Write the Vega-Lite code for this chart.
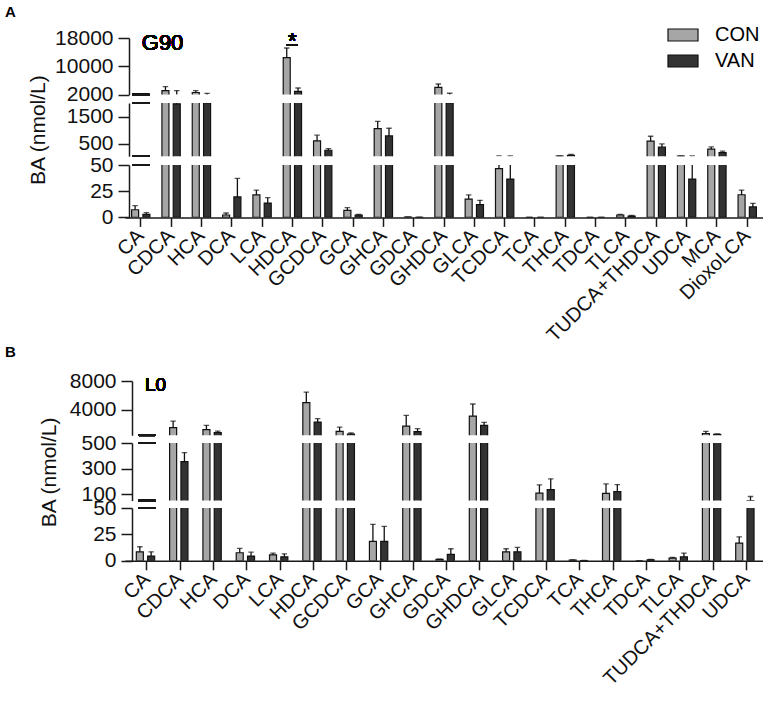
{
  "$schema": "https://vega.github.io/schema/vega-lite/v6.json",
  "padding": {"left": 5, "top": 5, "right": 0, "bottom": 0},
  "datasets": {
    "A": [
      {"ba": "CA", "grp": "CON", "mean": 7.3, "hi": 11.2}, {"ba": "CA", "grp": "VAN", "mean": 2.8, "hi": 4.5},
      {"ba": "CDCA", "grp": "CON", "mean": 3130, "hi": 4260}, {"ba": "CDCA", "grp": "VAN", "mean": 1970, "hi": 3130},
      {"ba": "HCA", "grp": "CON", "mean": 2600, "hi": 3100}, {"ba": "HCA", "grp": "VAN", "mean": 1990, "hi": 2370},
      {"ba": "DCA", "grp": "CON", "mean": 2.3, "hi": 4.2}, {"ba": "DCA", "grp": "VAN", "mean": 19.5, "hi": 37.2},
      {"ba": "LCA", "grp": "CON", "mean": 21.4, "hi": 26.1}, {"ba": "LCA", "grp": "VAN", "mean": 13.7, "hi": 18.8},
      {"ba": "HDCA", "grp": "CON", "mean": 12460, "hi": 15170}, {"ba": "HDCA", "grp": "VAN", "mean": 2930, "hi": 3870},
      {"ba": "GCDCA", "grp": "CON", "mean": 610, "hi": 819}, {"ba": "GCDCA", "grp": "VAN", "mean": 269, "hi": 328},
      {"ba": "GCA", "grp": "CON", "mean": 6.7, "hi": 9.3}, {"ba": "GCA", "grp": "VAN", "mean": 2.3, "hi": 2.9},
      {"ba": "GHCA", "grp": "CON", "mean": 1060, "hi": 1330}, {"ba": "GHCA", "grp": "VAN", "mean": 793, "hi": 1075},
      {"ba": "GDCA", "grp": "CON", "mean": 0.3, "hi": 0.4}, {"ba": "GDCA", "grp": "VAN", "mean": 0.1, "hi": 0.15},
      {"ba": "GHDCA", "grp": "CON", "mean": 4060, "hi": 5000}, {"ba": "GHDCA", "grp": "VAN", "mean": 1990, "hi": 2380},
      {"ba": "GLCA", "grp": "CON", "mean": 17.5, "hi": 21.4}, {"ba": "GLCA", "grp": "VAN", "mean": 12.1, "hi": 16.3},
      {"ba": "TCDCA", "grp": "CON", "mean": 46.5, "hi": 60}, {"ba": "TCDCA", "grp": "VAN", "mean": 36.6, "hi": 60},
      {"ba": "TCA", "grp": "CON", "mean": 0, "hi": 0}, {"ba": "TCA", "grp": "VAN", "mean": 0, "hi": 0},
      {"ba": "THCA", "grp": "CON", "mean": 52, "hi": 58}, {"ba": "THCA", "grp": "VAN", "mean": 80, "hi": 115},
      {"ba": "TDCA", "grp": "CON", "mean": 0, "hi": 0}, {"ba": "TDCA", "grp": "VAN", "mean": 0, "hi": 0},
      {"ba": "TLCA", "grp": "CON", "mean": 2.3, "hi": 2.9}, {"ba": "TLCA", "grp": "VAN", "mean": 1.3, "hi": 1.8},
      {"ba": "TUDCA+THDCA", "grp": "CON", "mean": 599, "hi": 782}, {"ba": "TUDCA+THDCA", "grp": "VAN", "mean": 379, "hi": 500},
      {"ba": "UDCA", "grp": "CON", "mean": 52, "hi": 58}, {"ba": "UDCA", "grp": "VAN", "mean": 36.6, "hi": 60},
      {"ba": "MCA", "grp": "CON", "mean": 306, "hi": 390}, {"ba": "MCA", "grp": "VAN", "mean": 181, "hi": 233},
      {"ba": "DioxoLCA", "grp": "CON", "mean": 21.6, "hi": 26.1}, {"ba": "DioxoLCA", "grp": "VAN", "mean": 10, "hi": 13.4}
    ],
    "B": [
      {"ba": "CA", "grp": "CON", "mean": 8.5, "hi": 13.3}, {"ba": "CA", "grp": "VAN", "mean": 4.5, "hi": 8.5},
      {"ba": "CDCA", "grp": "CON", "mean": 1560, "hi": 2470}, {"ba": "CDCA", "grp": "VAN", "mean": 355, "hi": 425},
      {"ba": "HCA", "grp": "CON", "mean": 1290, "hi": 1880}, {"ba": "HCA", "grp": "VAN", "mean": 870, "hi": 1090},
      {"ba": "DCA", "grp": "CON", "mean": 7.6, "hi": 11.7}, {"ba": "DCA", "grp": "VAN", "mean": 4.5, "hi": 8.2},
      {"ba": "LCA", "grp": "CON", "mean": 5.7, "hi": 7.3}, {"ba": "LCA", "grp": "VAN", "mean": 3.8, "hi": 6.6},
      {"ba": "HDCA", "grp": "CON", "mean": 5010, "hi": 6470}, {"ba": "HDCA", "grp": "VAN", "mean": 2330, "hi": 2800},
      {"ba": "GCDCA", "grp": "CON", "mean": 1050, "hi": 1640}, {"ba": "GCDCA", "grp": "VAN", "mean": 680, "hi": 820},
      {"ba": "GCA", "grp": "CON", "mean": 18.4, "hi": 34.5}, {"ba": "GCA", "grp": "VAN", "mean": 18.4, "hi": 32.6},
      {"ba": "GHCA", "grp": "CON", "mean": 1780, "hi": 3260}, {"ba": "GHCA", "grp": "VAN", "mean": 1010, "hi": 1420},
      {"ba": "GDCA", "grp": "CON", "mean": 1.3, "hi": 1.6}, {"ba": "GDCA", "grp": "VAN", "mean": 6.1, "hi": 11.4},
      {"ba": "GHDCA", "grp": "CON", "mean": 3160, "hi": 4820}, {"ba": "GHDCA", "grp": "VAN", "mean": 1880, "hi": 2290},
      {"ba": "GLCA", "grp": "CON", "mean": 8.5, "hi": 11.4}, {"ba": "GLCA", "grp": "VAN", "mean": 8.5, "hi": 12.7},
      {"ba": "TCDCA", "grp": "CON", "mean": 108, "hi": 173}, {"ba": "TCDCA", "grp": "VAN", "mean": 136, "hi": 220},
      {"ba": "TCA", "grp": "CON", "mean": 0.7, "hi": 0.9}, {"ba": "TCA", "grp": "VAN", "mean": 0.2, "hi": 0.3},
      {"ba": "THCA", "grp": "CON", "mean": 106, "hi": 180}, {"ba": "THCA", "grp": "VAN", "mean": 120, "hi": 175},
      {"ba": "TDCA", "grp": "CON", "mean": 0, "hi": 0}, {"ba": "TDCA", "grp": "VAN", "mean": 1.0, "hi": 1.3},
      {"ba": "TLCA", "grp": "CON", "mean": 2.5, "hi": 3.3}, {"ba": "TLCA", "grp": "VAN", "mean": 3.8, "hi": 7.3},
      {"ba": "TUDCA+THDCA", "grp": "CON", "mean": 735, "hi": 1050}, {"ba": "TUDCA+THDCA", "grp": "VAN", "mean": 620, "hi": 680},
      {"ba": "UDCA", "grp": "CON", "mean": 16.8, "hi": 22.7}, {"ba": "UDCA", "grp": "VAN", "mean": 50.5, "hi": 82}
    ]
  },
  "spacing": 9,
  "resolve": {"scale": {"color": "independent"}, "legend": {"color": "independent"}},
  "vconcat": [
    {
      "spacing": 8,
      "bounds": "flush",
      "resolve": {"scale": {"color": "independent"}, "legend": {"color": "independent"}},
      "vconcat": [
        {
          "data": {"name": "A"},
          "width": 638, "height": 56.6,
          "title": {"text": "A", "orient": "top", "anchor": "start", "frame": "group", "dx": -120, "offset": -1},
          "layer": [
            {"transform": [{"filter": "datum.mean > 2000"}],
             "mark": {"type": "bar", "clip": true, "stroke": "#111", "strokeWidth": 1.2},
             "encoding": {
               "x": {"field": "ba", "type": "nominal", "sort": null, "scale": {"domain": ["CA","CDCA","HCA","DCA","LCA","HDCA","GCDCA","GCA","GHCA","GDCA","GHDCA","GLCA","TCDCA","TCA","THCA","TDCA","TLCA","TUDCA+THDCA","UDCA","MCA","DioxoLCA"], "paddingInner": 0, "paddingOuter": 0.02}, "axis": null},
               "xOffset": {"field": "grp", "type": "nominal", "scale": {"domain": ["CON","VAN"], "paddingInner": 0.38, "paddingOuter": 0.53}},
               "y": {"field": "mean", "type": "quantitative", "scale": {"domain": [2000, 18000], "nice": false, "zero": false}, "axis": {"values": [2000, 10000, 18000], "format": "d", "title": null, "offset": -4, "tickSize": 11, "labelPadding": 5, "labelFontSize": 21}},
               "y2": {"datum": 0},
               "color": {"field": "grp", "type": "nominal", "scale": {"domain": ["CON","VAN"], "range": ["#a6a6a6","#333333"]}, "legend": {"title": null, "orient": "none", "legendX": 542, "legendY": -19, "padding": 0, "symbolType": "M-1,-0.4H1V0.4H-1Z", "symbolSize": 900, "symbolStrokeColor": "#111", "symbolStrokeWidth": 1.2, "symbolOpacity": 1, "labelFontSize": 20, "labelColor": "#000", "labelOffset": 16, "rowPadding": 0}}
             }},
            {"transform": [{"filter": "datum.hi > 2000"}],
             "mark": {"type": "rule", "clip": true, "color": "#111", "strokeWidth": 1.3},
             "encoding": {"x": {"field": "ba", "type": "nominal", "axis": null}, "xOffset": {"field": "grp", "type": "nominal"}, "y": {"field": "mean", "type": "quantitative", "axis": {"values": [2000, 10000, 18000], "format": "d", "title": null, "offset": -4, "tickSize": 11, "labelPadding": 5, "labelFontSize": 21}}, "y2": {"field": "hi"}}},
            {"transform": [{"filter": "datum.hi > 2000"}],
             "mark": {"type": "tick", "clip": true, "color": "#111", "thickness": 1.3, "size": 5.5, "orient": "horizontal"},
             "encoding": {"x": {"field": "ba", "type": "nominal", "axis": null}, "xOffset": {"field": "grp", "type": "nominal"}, "y": {"field": "hi", "type": "quantitative", "axis": {"values": [2000, 10000, 18000], "format": "d", "title": null, "offset": -4, "tickSize": 11, "labelPadding": 5, "labelFontSize": 21}}}},
            {"mark": {"type": "tick", "color": "#1a1a1a", "thickness": 1.5, "size": 17, "orient": "horizontal"},
             "encoding": {"x": {"datum": "CA", "bandPosition": 0.1, "axis": null}, "y": {"datum": 2000, "axis": {"values": [2000, 10000, 18000], "format": "d", "title": null, "offset": -4, "tickSize": 11, "labelPadding": 5, "labelFontSize": 21}}}},
            {"mark": {"type": "text", "align": "left", "baseline": "alphabetic", "fontSize": 22, "dx": 1, "color": "#000"},
             "encoding": {"x": {"datum": "CA", "axis": null}, "y": {"datum": 14523, "axis": {"values": [2000, 10000, 18000], "format": "d", "title": null, "offset": -4, "tickSize": 11, "labelPadding": 5, "labelFontSize": 21}}, "text": {"value": "G90"}}},
            {"mark": {"type": "text", "align": "center", "baseline": "alphabetic", "fontSize": 22, "color": "#000"},
             "encoding": {"x": {"datum": "HDCA", "axis": null}, "y": {"datum": 15088, "axis": {"values": [2000, 10000, 18000], "format": "d", "title": null, "offset": -4, "tickSize": 11, "labelPadding": 5, "labelFontSize": 21}}, "text": {"value": "*"}}},
            {"mark": {"type": "tick", "color": "#111", "thickness": 1.5, "size": 11, "orient": "horizontal"},
             "encoding": {"x": {"datum": "HDCA", "axis": null}, "y": {"datum": 16000, "axis": {"values": [2000, 10000, 18000], "format": "d", "title": null, "offset": -4, "tickSize": 11, "labelPadding": 5, "labelFontSize": 21}}}}
          ]
        },
        {
          "data": {"name": "A"},
          "width": 638, "height": 53.2,
          "layer": [
            {"transform": [{"filter": "datum.mean > 50"}],
             "mark": {"type": "bar", "clip": true, "stroke": "#111", "strokeWidth": 1.2},
             "encoding": {
               "x": {"field": "ba", "type": "nominal", "sort": null, "scale": {"domain": ["CA","CDCA","HCA","DCA","LCA","HDCA","GCDCA","GCA","GHCA","GDCA","GHDCA","GLCA","TCDCA","TCA","THCA","TDCA","TLCA","TUDCA+THDCA","UDCA","MCA","DioxoLCA"], "paddingInner": 0, "paddingOuter": 0.02}, "axis": null},
               "xOffset": {"field": "grp", "type": "nominal", "scale": {"domain": ["CON","VAN"], "paddingInner": 0.38, "paddingOuter": 0.53}},
               "y": {"field": "mean", "type": "quantitative", "scale": {"domain": [50, 2000], "nice": false, "zero": false}, "axis": {"values": [500, 1500], "format": "d", "title": "BA (nmol/L)", "titleFontSize": 21, "titleFontWeight": "normal", "titlePadding": 18, "offset": -4, "tickSize": 11, "labelPadding": 5, "labelFontSize": 21}},
               "y2": {"datum": 0},
               "color": {"field": "grp", "type": "nominal", "scale": {"domain": ["CON","VAN"], "range": ["#a6a6a6","#333333"]}, "legend": null}
             }},
            {"transform": [{"filter": "datum.hi > 50"}],
             "mark": {"type": "rule", "clip": true, "color": "#111", "strokeWidth": 1.3},
             "encoding": {"x": {"field": "ba", "type": "nominal", "axis": null}, "xOffset": {"field": "grp", "type": "nominal"}, "y": {"field": "mean", "type": "quantitative", "axis": {"values": [500, 1500], "format": "d", "title": "BA (nmol/L)", "titleFontSize": 21, "titleFontWeight": "normal", "titlePadding": 18, "offset": -4, "tickSize": 11, "labelPadding": 5, "labelFontSize": 21}}, "y2": {"field": "hi"}}},
            {"transform": [{"filter": "datum.hi > 50"}],
             "mark": {"type": "tick", "clip": true, "color": "#111", "thickness": 1.3, "size": 5.5, "orient": "horizontal"},
             "encoding": {"x": {"field": "ba", "type": "nominal", "axis": null}, "xOffset": {"field": "grp", "type": "nominal"}, "y": {"field": "hi", "type": "quantitative", "axis": {"values": [500, 1500], "format": "d", "title": "BA (nmol/L)", "titleFontSize": 21, "titleFontWeight": "normal", "titlePadding": 18, "offset": -4, "tickSize": 11, "labelPadding": 5, "labelFontSize": 21}}}},
            {"mark": {"type": "tick", "color": "#1a1a1a", "thickness": 1.5, "size": 17, "orient": "horizontal"},
             "encoding": {"x": {"datum": "CA", "bandPosition": 0.1, "axis": null}, "y": {"datum": 2000, "axis": {"values": [500, 1500], "format": "d", "title": "BA (nmol/L)", "titleFontSize": 21, "titleFontWeight": "normal", "titlePadding": 18, "offset": -4, "tickSize": 11, "labelPadding": 5, "labelFontSize": 21}}}},
            {"mark": {"type": "tick", "color": "#1a1a1a", "thickness": 1.5, "size": 17, "orient": "horizontal"},
             "encoding": {"x": {"datum": "CA", "bandPosition": 0.1, "axis": null}, "y": {"datum": 50, "axis": {"values": [500, 1500], "format": "d", "title": "BA (nmol/L)", "titleFontSize": 21, "titleFontWeight": "normal", "titlePadding": 18, "offset": -4, "tickSize": 11, "labelPadding": 5, "labelFontSize": 21}}}}
          ]
        },
        {
          "data": {"name": "A"},
          "width": 638, "height": 52.4,
          "title": {"text": "B", "orient": "bottom", "anchor": "start", "frame": "group", "dx": -120, "offset": 0},
          "layer": [
            {"mark": {"type": "bar", "clip": true, "stroke": "#111", "strokeWidth": 1.2},
             "encoding": {
               "x": {"field": "ba", "type": "nominal", "sort": null, "scale": {"domain": ["CA","CDCA","HCA","DCA","LCA","HDCA","GCDCA","GCA","GHCA","GDCA","GHDCA","GLCA","TCDCA","TCA","THCA","TDCA","TLCA","TUDCA+THDCA","UDCA","MCA","DioxoLCA"], "paddingInner": 0, "paddingOuter": 0.02}, "axis": {"title": null, "labelAngle": -45, "labelAlign": "right", "labelBaseline": "middle", "labelFontSize": 20, "tickSize": 9, "labelPadding": 6, "labelOverlap": false, "labelLimit": 400}},
               "xOffset": {"field": "grp", "type": "nominal", "scale": {"domain": ["CON","VAN"], "paddingInner": 0.38, "paddingOuter": 0.53}},
               "y": {"field": "mean", "type": "quantitative", "scale": {"domain": [0, 50], "nice": false, "zero": false}, "axis": {"values": [0, 25, 50], "format": "d", "title": null, "offset": -4, "tickSize": 11, "labelPadding": 5, "labelFontSize": 21}},
               "y2": {"datum": 0},
               "color": {"field": "grp", "type": "nominal", "scale": {"domain": ["CON","VAN"], "range": ["#a6a6a6","#333333"]}, "legend": null}
             }},
            {"mark": {"type": "rule", "clip": true, "color": "#111", "strokeWidth": 1.3},
             "encoding": {"x": {"field": "ba", "type": "nominal", "axis": {"title": null, "labelAngle": -45, "labelAlign": "right", "labelBaseline": "middle", "labelFontSize": 20, "tickSize": 9, "labelPadding": 6, "labelOverlap": false, "labelLimit": 400}}, "xOffset": {"field": "grp", "type": "nominal"}, "y": {"field": "mean", "type": "quantitative", "axis": {"values": [0, 25, 50], "format": "d", "title": null, "offset": -4, "tickSize": 11, "labelPadding": 5, "labelFontSize": 21}}, "y2": {"field": "hi"}}},
            {"mark": {"type": "tick", "clip": true, "color": "#111", "thickness": 1.3, "size": 5.5, "orient": "horizontal"},
             "encoding": {"x": {"field": "ba", "type": "nominal", "axis": {"title": null, "labelAngle": -45, "labelAlign": "right", "labelBaseline": "middle", "labelFontSize": 20, "tickSize": 9, "labelPadding": 6, "labelOverlap": false, "labelLimit": 400}}, "xOffset": {"field": "grp", "type": "nominal"}, "y": {"field": "hi", "type": "quantitative", "axis": {"values": [0, 25, 50], "format": "d", "title": null, "offset": -4, "tickSize": 11, "labelPadding": 5, "labelFontSize": 21}}}},
            {"mark": {"type": "tick", "color": "#1a1a1a", "thickness": 1.5, "size": 17, "orient": "horizontal"},
             "encoding": {"x": {"datum": "CA", "bandPosition": 0.1, "axis": {"title": null, "labelAngle": -45, "labelAlign": "right", "labelBaseline": "middle", "labelFontSize": 20, "tickSize": 9, "labelPadding": 6, "labelOverlap": false, "labelLimit": 400}}, "y": {"datum": 50, "axis": {"values": [0, 25, 50], "format": "d", "title": null, "offset": -4, "tickSize": 11, "labelPadding": 5, "labelFontSize": 21}}}}
          ]
        }
      ]
    },
    {
      "spacing": 7,
      "bounds": "flush",
      "resolve": {"scale": {"color": "independent"}, "legend": {"color": "independent"}},
      "vconcat": [
        {
          "data": {"name": "B"},
          "width": 638, "height": 54.3,
          "layer": [
            {"transform": [{"filter": "datum.mean > 500"}],
             "mark": {"type": "bar", "clip": true, "stroke": "#111", "strokeWidth": 1.2},
             "encoding": {
               "x": {"field": "ba", "type": "nominal", "sort": null, "scale": {"domain": ["CA","CDCA","HCA","DCA","LCA","HDCA","GCDCA","GCA","GHCA","GDCA","GHDCA","GLCA","TCDCA","TCA","THCA","TDCA","TLCA","TUDCA+THDCA","UDCA"], "paddingInner": 0, "paddingOuter": 0.08, "align": 1}, "axis": null},
               "xOffset": {"field": "grp", "type": "nominal", "scale": {"domain": ["CON","VAN"], "paddingInner": 0.41, "paddingOuter": 0.57}},
               "y": {"field": "mean", "type": "quantitative", "scale": {"domain": [500, 8000], "nice": false, "zero": false}, "axis": {"values": [4000, 8000], "format": "d", "title": null, "offset": -7, "tickSize": 11, "labelPadding": 5, "labelFontSize": 21}},
               "y2": {"datum": 0},
               "color": {"field": "grp", "type": "nominal", "scale": {"domain": ["CON","VAN"], "range": ["#a6a6a6","#333333"]}, "legend": null}
             }},
            {"transform": [{"filter": "datum.hi > 500"}],
             "mark": {"type": "rule", "clip": true, "color": "#111", "strokeWidth": 1.3},
             "encoding": {"x": {"field": "ba", "type": "nominal", "axis": null}, "xOffset": {"field": "grp", "type": "nominal"}, "y": {"field": "mean", "type": "quantitative", "axis": {"values": [4000, 8000], "format": "d", "title": null, "offset": -7, "tickSize": 11, "labelPadding": 5, "labelFontSize": 21}}, "y2": {"field": "hi"}}},
            {"transform": [{"filter": "datum.hi > 500"}],
             "mark": {"type": "tick", "clip": true, "color": "#111", "thickness": 1.3, "size": 5.5, "orient": "horizontal"},
             "encoding": {"x": {"field": "ba", "type": "nominal", "axis": null}, "xOffset": {"field": "grp", "type": "nominal"}, "y": {"field": "hi", "type": "quantitative", "axis": {"values": [4000, 8000], "format": "d", "title": null, "offset": -7, "tickSize": 11, "labelPadding": 5, "labelFontSize": 21}}}},
            {"mark": {"type": "tick", "color": "#1a1a1a", "thickness": 1.5, "size": 17, "orient": "horizontal"},
             "encoding": {"x": {"datum": "CA", "bandPosition": 0.05, "axis": null}, "y": {"datum": 500, "axis": {"values": [4000, 8000], "format": "d", "title": null, "offset": -7, "tickSize": 11, "labelPadding": 5, "labelFontSize": 21}}}},
            {"mark": {"type": "text", "align": "left", "baseline": "alphabetic", "fontSize": 19, "dx": -2, "color": "#000"},
             "encoding": {"x": {"datum": "CA", "axis": null}, "y": {"datum": 6577, "axis": {"values": [4000, 8000], "format": "d", "title": null, "offset": -7, "tickSize": 11, "labelPadding": 5, "labelFontSize": 21}}, "text": {"value": "L0"}}}
          ]
        },
        {
          "data": {"name": "B"},
          "width": 638, "height": 57.6,
          "layer": [
            {"transform": [{"filter": "datum.mean > 50"}],
             "mark": {"type": "bar", "clip": true, "stroke": "#111", "strokeWidth": 1.2},
             "encoding": {
               "x": {"field": "ba", "type": "nominal", "sort": null, "scale": {"domain": ["CA","CDCA","HCA","DCA","LCA","HDCA","GCDCA","GCA","GHCA","GDCA","GHDCA","GLCA","TCDCA","TCA","THCA","TDCA","TLCA","TUDCA+THDCA","UDCA"], "paddingInner": 0, "paddingOuter": 0.08, "align": 1}, "axis": null},
               "xOffset": {"field": "grp", "type": "nominal", "scale": {"domain": ["CON","VAN"], "paddingInner": 0.41, "paddingOuter": 0.57}},
               "y": {"field": "mean", "type": "quantitative", "scale": {"domain": [50, 500], "nice": false, "zero": false}, "axis": {"values": [100, 300, 500], "format": "d", "title": "BA (nmol/L)", "titleFontSize": 21, "titleFontWeight": "normal", "titlePadding": 21, "offset": -7, "tickSize": 11, "labelPadding": 5, "labelFontSize": 21}},
               "y2": {"datum": 0},
               "color": {"field": "grp", "type": "nominal", "scale": {"domain": ["CON","VAN"], "range": ["#a6a6a6","#333333"]}, "legend": null}
             }},
            {"transform": [{"filter": "datum.hi > 50"}],
             "mark": {"type": "rule", "clip": true, "color": "#111", "strokeWidth": 1.3},
             "encoding": {"x": {"field": "ba", "type": "nominal", "axis": null}, "xOffset": {"field": "grp", "type": "nominal"}, "y": {"field": "mean", "type": "quantitative", "axis": {"values": [100, 300, 500], "format": "d", "title": "BA (nmol/L)", "titleFontSize": 21, "titleFontWeight": "normal", "titlePadding": 21, "offset": -7, "tickSize": 11, "labelPadding": 5, "labelFontSize": 21}}, "y2": {"field": "hi"}}},
            {"transform": [{"filter": "datum.hi > 50"}],
             "mark": {"type": "tick", "clip": true, "color": "#111", "thickness": 1.3, "size": 5.5, "orient": "horizontal"},
             "encoding": {"x": {"field": "ba", "type": "nominal", "axis": null}, "xOffset": {"field": "grp", "type": "nominal"}, "y": {"field": "hi", "type": "quantitative", "axis": {"values": [100, 300, 500], "format": "d", "title": "BA (nmol/L)", "titleFontSize": 21, "titleFontWeight": "normal", "titlePadding": 21, "offset": -7, "tickSize": 11, "labelPadding": 5, "labelFontSize": 21}}}},
            {"mark": {"type": "tick", "color": "#1a1a1a", "thickness": 1.5, "size": 17, "orient": "horizontal"},
             "encoding": {"x": {"datum": "CA", "bandPosition": 0.05, "axis": null}, "y": {"datum": 500, "axis": {"values": [100, 300, 500], "format": "d", "title": "BA (nmol/L)", "titleFontSize": 21, "titleFontWeight": "normal", "titlePadding": 21, "offset": -7, "tickSize": 11, "labelPadding": 5, "labelFontSize": 21}}}},
            {"mark": {"type": "tick", "color": "#1a1a1a", "thickness": 1.5, "size": 17, "orient": "horizontal"},
             "encoding": {"x": {"datum": "CA", "bandPosition": 0.05, "axis": null}, "y": {"datum": 50, "axis": {"values": [100, 300, 500], "format": "d", "title": "BA (nmol/L)", "titleFontSize": 21, "titleFontWeight": "normal", "titlePadding": 21, "offset": -7, "tickSize": 11, "labelPadding": 5, "labelFontSize": 21}}}}
          ]
        },
        {
          "data": {"name": "B"},
          "width": 638, "height": 52.8,
          "layer": [
            {"mark": {"type": "bar", "clip": true, "stroke": "#111", "strokeWidth": 1.2},
             "encoding": {
               "x": {"field": "ba", "type": "nominal", "sort": null, "scale": {"domain": ["CA","CDCA","HCA","DCA","LCA","HDCA","GCDCA","GCA","GHCA","GDCA","GHDCA","GLCA","TCDCA","TCA","THCA","TDCA","TLCA","TUDCA+THDCA","UDCA"], "paddingInner": 0, "paddingOuter": 0.08, "align": 1}, "axis": {"title": null, "labelAngle": -45, "labelAlign": "right", "labelBaseline": "middle", "labelFontSize": 20, "tickSize": 9, "labelPadding": 6, "labelOverlap": false, "labelLimit": 400}},
               "xOffset": {"field": "grp", "type": "nominal", "scale": {"domain": ["CON","VAN"], "paddingInner": 0.41, "paddingOuter": 0.57}},
               "y": {"field": "mean", "type": "quantitative", "scale": {"domain": [0, 50], "nice": false, "zero": false}, "axis": {"values": [0, 25, 50], "format": "d", "title": null, "offset": -7, "tickSize": 11, "labelPadding": 5, "labelFontSize": 21}},
               "y2": {"datum": 0},
               "color": {"field": "grp", "type": "nominal", "scale": {"domain": ["CON","VAN"], "range": ["#a6a6a6","#333333"]}, "legend": null}
             }},
            {"mark": {"type": "rule", "clip": true, "color": "#111", "strokeWidth": 1.3},
             "encoding": {"x": {"field": "ba", "type": "nominal", "axis": {"title": null, "labelAngle": -45, "labelAlign": "right", "labelBaseline": "middle", "labelFontSize": 20, "tickSize": 9, "labelPadding": 6, "labelOverlap": false, "labelLimit": 400}}, "xOffset": {"field": "grp", "type": "nominal"}, "y": {"field": "mean", "type": "quantitative", "axis": {"values": [0, 25, 50], "format": "d", "title": null, "offset": -7, "tickSize": 11, "labelPadding": 5, "labelFontSize": 21}}, "y2": {"field": "hi"}}},
            {"mark": {"type": "tick", "clip": true, "color": "#111", "thickness": 1.3, "size": 5.5, "orient": "horizontal"},
             "encoding": {"x": {"field": "ba", "type": "nominal", "axis": {"title": null, "labelAngle": -45, "labelAlign": "right", "labelBaseline": "middle", "labelFontSize": 20, "tickSize": 9, "labelPadding": 6, "labelOverlap": false, "labelLimit": 400}}, "xOffset": {"field": "grp", "type": "nominal"}, "y": {"field": "hi", "type": "quantitative", "axis": {"values": [0, 25, 50], "format": "d", "title": null, "offset": -7, "tickSize": 11, "labelPadding": 5, "labelFontSize": 21}}}},
            {"mark": {"type": "tick", "color": "#1a1a1a", "thickness": 1.5, "size": 17, "orient": "horizontal"},
             "encoding": {"x": {"datum": "CA", "bandPosition": 0.05, "axis": {"title": null, "labelAngle": -45, "labelAlign": "right", "labelBaseline": "middle", "labelFontSize": 20, "tickSize": 9, "labelPadding": 6, "labelOverlap": false, "labelLimit": 400}}, "y": {"datum": 50, "axis": {"values": [0, 25, 50], "format": "d", "title": null, "offset": -7, "tickSize": 11, "labelPadding": 5, "labelFontSize": 21}}}}
          ]
        }
      ]
    }
  ],
  "config": {
    "font": "Liberation Sans",
    "view": {"stroke": null},
    "axis": {"domainColor": "#1a1a1a", "domainWidth": 1.5, "tickColor": "#1a1a1a", "tickWidth": 1.5, "tickSize": 11, "labelPadding": 5, "labelFontSize": 21, "labelColor": "#111", "titleColor": "#111", "grid": false},
    "axisX": {"labelAngle": -45, "labelFontSize": 20, "tickSize": 9},
    "title": {"fontSize": 15, "fontWeight": "bold", "color": "#000"}
  }
}
